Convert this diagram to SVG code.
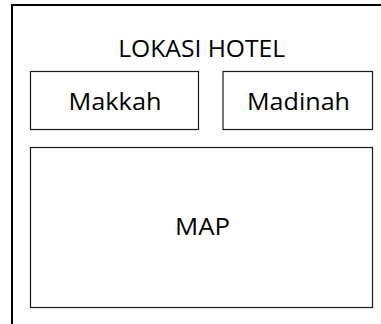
<svg xmlns="http://www.w3.org/2000/svg" width="381" height="324" viewBox="0 0 381 324">
<style>
.box{fill:#fff;stroke:#1a1a1a;stroke-width:1.2}
.lbl{font-family:"Open Sans","Noto Sans","Liberation Sans",sans-serif;font-size:23px;fill:#000;text-anchor:middle}
</style>
<rect width="381" height="324" fill="#fff"/>
<g id="frame">
<path d="M12,324 V5 H381" fill="none" stroke="#000" stroke-width="2"/>
<text class="lbl" x="201.7" y="56.7" textLength="167" lengthAdjust="spacingAndGlyphs">LOKASI HOTEL</text>
</g>
<g id="makkah">
<rect class="box" x="30.5" y="71.5" width="168" height="58"/>
<text class="lbl" x="115" y="109.5" textLength="93" lengthAdjust="spacingAndGlyphs">Makkah</text>
</g>
<g id="madinah">
<rect class="box" x="223" y="71.5" width="149.5" height="58"/>
<text class="lbl" x="298.5" y="109.5" textLength="103" lengthAdjust="spacingAndGlyphs">Madinah</text>
</g>
<g id="map">
<rect class="box" x="30.5" y="147.5" width="342" height="160"/>
<text class="lbl" x="202.5" y="235" textLength="55" lengthAdjust="spacingAndGlyphs">MAP</text>
</g>
<g id="connectors"/>
</svg>
